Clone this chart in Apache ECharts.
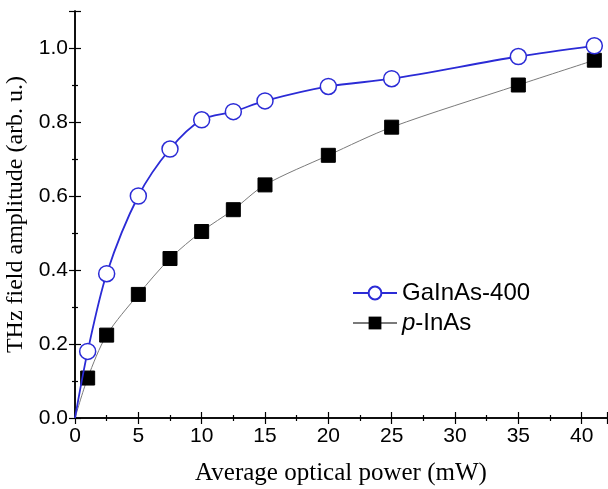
<!DOCTYPE html>
<html>
<head>
<meta charset="utf-8">
<script src="https://cdn.jsdelivr.net/npm/echarts@6/dist/echarts.min.js"></script>
<style>
html, body { margin: 0; padding: 0; background: #fff; }
#chart { width: 608px; height: 489px; }
</style>
</head>
<body>
<div id="chart"></div>
<script>
var power = [0, 1, 2.5, 5, 7.5, 10, 12.5, 15, 20, 25, 35, 41];
var gainas = [0, 0.18, 0.39, 0.60, 0.727, 0.806, 0.828, 0.857, 0.896, 0.917, 0.977, 1.006];
var pinas = [0, 0.108, 0.224, 0.334, 0.431, 0.504, 0.563, 0.63, 0.71, 0.786, 0.90, 0.967];

var sans = '"Liberation Sans", Arial, sans-serif';
var serif = '"Liberation Serif", "Times New Roman", serif';

function pairs(ys) {
    return power.map(function (x, i) {
        // origin point has no visible marker
        if (i === 0) return { value: [x, ys[i]], symbol: 'none' };
        return [x, ys[i]];
    });
}

var axisBlack = { lineStyle: { color: '#000', width: 1.5 } };
var tickIn = { inside: true, length: 6, lineStyle: { color: '#000', width: 1.2 } };
var minorIn = { show: true, splitNumber: 2, length: 3, lineStyle: { color: '#000', width: 1.2 } };

var option = {
    animation: false,
    grid: { left: 75, top: 11, right: 1, bottom: 71, outerBoundsMode: 'none', containLabel: false },
    legend: {
        orient: 'vertical',
        left: 347,
        top: 276,
        itemWidth: 44,
        itemHeight: 16,
        itemGap: 6,
        textStyle: {
            fontFamily: sans,
            fontSize: 24,
            color: '#000',
            rich: { it: { fontStyle: 'italic', fontFamily: sans, fontSize: 24, color: '#000' } }
        },
        formatter: function (name) {
            if (name === 'p-InAs') return '{it|p}-InAs';
            return name;
        },
        data: ['GaInAs-400', 'p-InAs']
    },
    xAxis: [{
        type: 'value',
        min: 0, max: 42, interval: 5,
        name: 'Average optical power (mW)',
        nameLocation: 'middle',
        nameGap: 43,
        nameTextStyle: { fontFamily: serif, fontSize: 25, color: '#000' },
        axisLine: axisBlack,
        axisTick: tickIn,
        minorTick: minorIn,
        splitLine: { show: false },
        axisLabel: { fontFamily: sans, fontSize: 21, color: '#000', margin: 8, showMaxLabel: false }
    }, {
        type: 'value', position: 'top',
        min: 0, max: 42, interval: 5,
        axisLine: axisBlack,
        axisTick: tickIn,
        minorTick: minorIn,
        splitLine: { show: false },
        axisLabel: { show: false }
    }],
    yAxis: [{
        type: 'value',
        min: 0, max: 1.1, interval: 0.2,
        name: 'THz field amplitude (arb. u.)',
        nameLocation: 'middle',
        nameGap: 44,
        nameTextStyle: { fontFamily: serif, fontSize: 24, color: '#000' },
        axisLine: axisBlack,
        axisTick: tickIn,
        minorTick: minorIn,
        splitLine: { show: false },
        axisLabel: {
            fontFamily: sans, fontSize: 21, color: '#000', margin: 7, showMaxLabel: false,
            formatter: function (v) { return v.toFixed(1); }
        }
    }, {
        type: 'value', position: 'right',
        min: 0, max: 1.1, interval: 0.2,
        axisLine: axisBlack,
        axisTick: tickIn,
        minorTick: minorIn,
        splitLine: { show: false },
        axisLabel: { show: false }
    }],
    series: [{
        name: 'p-InAs',
        type: 'line',
        smooth: 0.3,
        data: pairs(pinas),
        symbol: 'rect',
        symbolSize: 14,
        lineStyle: { color: '#7a7a7a', width: 1 },
        itemStyle: { color: '#000', borderColor: '#000' },
        z: 3
    }, {
        name: 'GaInAs-400',
        type: 'line',
        smooth: 0.3,
        data: pairs(gainas),
        symbol: 'circle',
        symbolSize: 16,
        lineStyle: { color: '#2b2bd6', width: 1.8 },
        itemStyle: { color: '#fff', borderColor: '#2b2bd6', borderWidth: 1.5 },
        z: 4
    }]
};

var chart = echarts.init(document.getElementById('chart'));
chart.setOption(option);
</script>
</body>
</html>
